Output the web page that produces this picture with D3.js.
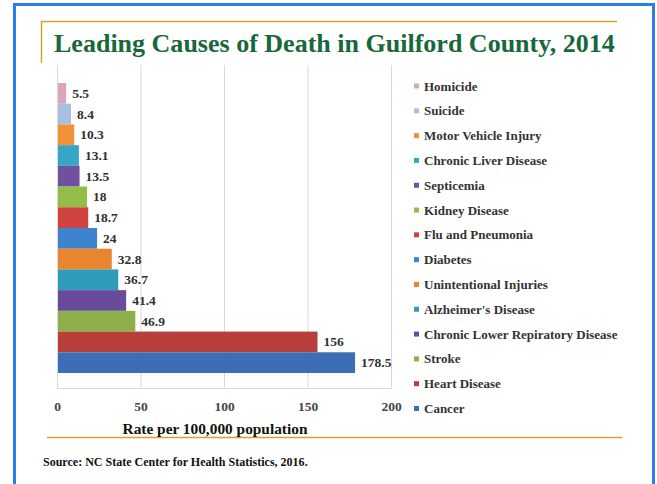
<!DOCTYPE html>
<html><head><meta charset="utf-8">
<script src="https://cdn.jsdelivr.net/npm/d3@7"></script>
<style>body{margin:0;background:#fff}</style>
</head><body><svg id="c" width="657" height="484"></svg>
<script>
const categories = ["Homicide","Suicide","Motor Vehicle Injury","Chronic Liver Disease","Septicemia","Kidney Disease","Flu and Pneumonia","Diabetes","Unintentional Injuries","Alzheimer's Disease","Chronic Lower Repiratory Disease","Stroke","Heart Disease","Cancer"];
const values = [5.5,8.4,10.3,13.1,13.5,18,18.7,24,32.8,36.7,41.4,46.9,156,178.5];
const colors = ["#d9a6bc","#a9bfdf","#f29238","#36a6c6","#71519f","#93bd49","#cf4340","#3f83cf","#e9852f","#2f9db9","#694a9c","#8eb04c","#b63f3b","#3d6db4"];
const xTicks = [0,50,100,150,200];
const titleText = "Leading Causes of Death in Guilford County, 2014";
const xTitleText = "Rate per 100,000 population";
const sourceText = "Source: NC State Center for Health Statistics, 2016.";

const svg = d3.select("#c");
const serif = "'Liberation Serif','Times New Roman',serif";

function fit(sel, w){
  const n = sel.node();
  const fs = parseFloat(sel.attr("font-size"));
  const cur = n.getComputedTextLength();
  sel.attr("font-size", (fs * w / cur).toFixed(2));
}

// blue frame
svg.append("rect").attr("x",14.5).attr("y",4.5).attr("width",639).attr("height",520)
  .attr("fill","none").attr("stroke","#2b7de9").attr("stroke-width",3);

// gold lines
svg.append("line").attr("x1",41).attr("x2",617).attr("y1",21.5).attr("y2",21.5).attr("stroke","#d4a32c").attr("stroke-width",1.5);
svg.append("line").attr("x1",41.5).attr("x2",41.5).attr("y1",21).attr("y2",63).attr("stroke","#d4a32c").attr("stroke-width",1.5);
svg.append("line").attr("x1",47).attr("x2",622).attr("y1",437.5).attr("y2",437.5).attr("stroke","#d4a32c").attr("stroke-width",1.5);

// title
const t = svg.append("text").attr("x",54).attr("y",52).attr("font-family",serif)
  .attr("font-weight","bold").attr("font-size",24).attr("fill","#17683a").text(titleText);
fit(t, 561);

const x = d3.scaleLinear().domain([0,200]).range([57,391]);
const y = d3.scaleBand().domain(categories).range([83,373]).paddingInner(0);
const plotTop = 65, plotBottom = 388;

// gridlines
svg.append("g").selectAll("line").data(xTicks).join("line")
  .attr("x1",d=>x(d)+0.5).attr("x2",d=>x(d)+0.5).attr("y1",plotTop).attr("y2",plotBottom)
  .attr("stroke","#d9d9d9").attr("stroke-width",1);
svg.append("line").attr("x1",x(0)).attr("x2",x(200)+1).attr("y1",plotBottom+0.5).attr("y2",plotBottom+0.5)
  .attr("stroke","#d9d9d9");

// bars
svg.append("g").selectAll("rect").data(categories).join("rect")
  .attr("x",x(0)+1).attr("y",d=>y(d)).attr("height",y.bandwidth())
  .attr("width",(d,i)=>x(values[i])-x(0)-1).attr("fill",(d,i)=>colors[i]);

// value labels
svg.append("g").selectAll("text").data(categories).join("text")
  .attr("x",(d,i)=>x(values[i])+6).attr("y",d=>y(d)+y.bandwidth()/2)
  .attr("dominant-baseline","central").attr("font-family",serif).attr("font-weight","bold")
  .attr("font-size",13.5).attr("fill","#303030").text((d,i)=>values[i]);

// x axis
const xAxis = d3.axisBottom(x).tickValues(xTicks).tickSize(0).tickPadding(0);
const ga = svg.append("g").attr("transform",`translate(0,${plotBottom})`).call(xAxis);
ga.select(".domain").remove();
ga.selectAll("text").attr("y",22.5).attr("dy",0).attr("font-family",serif).attr("font-weight","bold")
  .attr("font-size",13.5).attr("fill","#454545");

// axis title
const xt = svg.append("text").attr("x",215).attr("y",434).attr("text-anchor","middle")
  .attr("font-family",serif).attr("font-weight","bold").attr("font-size",13).attr("fill","#111").text(xTitleText);
fit(xt, 185);

// legend
const ly = d3.scalePoint().domain(categories).range([86,408.5]);
const lg = svg.append("g").selectAll("g").data(categories).join("g")
  .attr("transform",d=>`translate(414,${ly(d)})`);
lg.append("rect").attr("x",0).attr("y",-2.5).attr("width",5).attr("height",5).attr("fill",(d,i)=>colors[i]);
const ltxt = lg.append("text").attr("x",10).attr("y",0).attr("dominant-baseline","central")
  .attr("font-family",serif).attr("font-weight","bold").attr("font-size",13).attr("fill","#333").text(d=>d);

// source
const st = svg.append("text").attr("x",43).attr("y",466).attr("font-family",serif)
  .attr("font-weight","bold").attr("font-size",12).attr("fill","#111").text(sourceText);
fit(st, 265);
</script></body></html>
